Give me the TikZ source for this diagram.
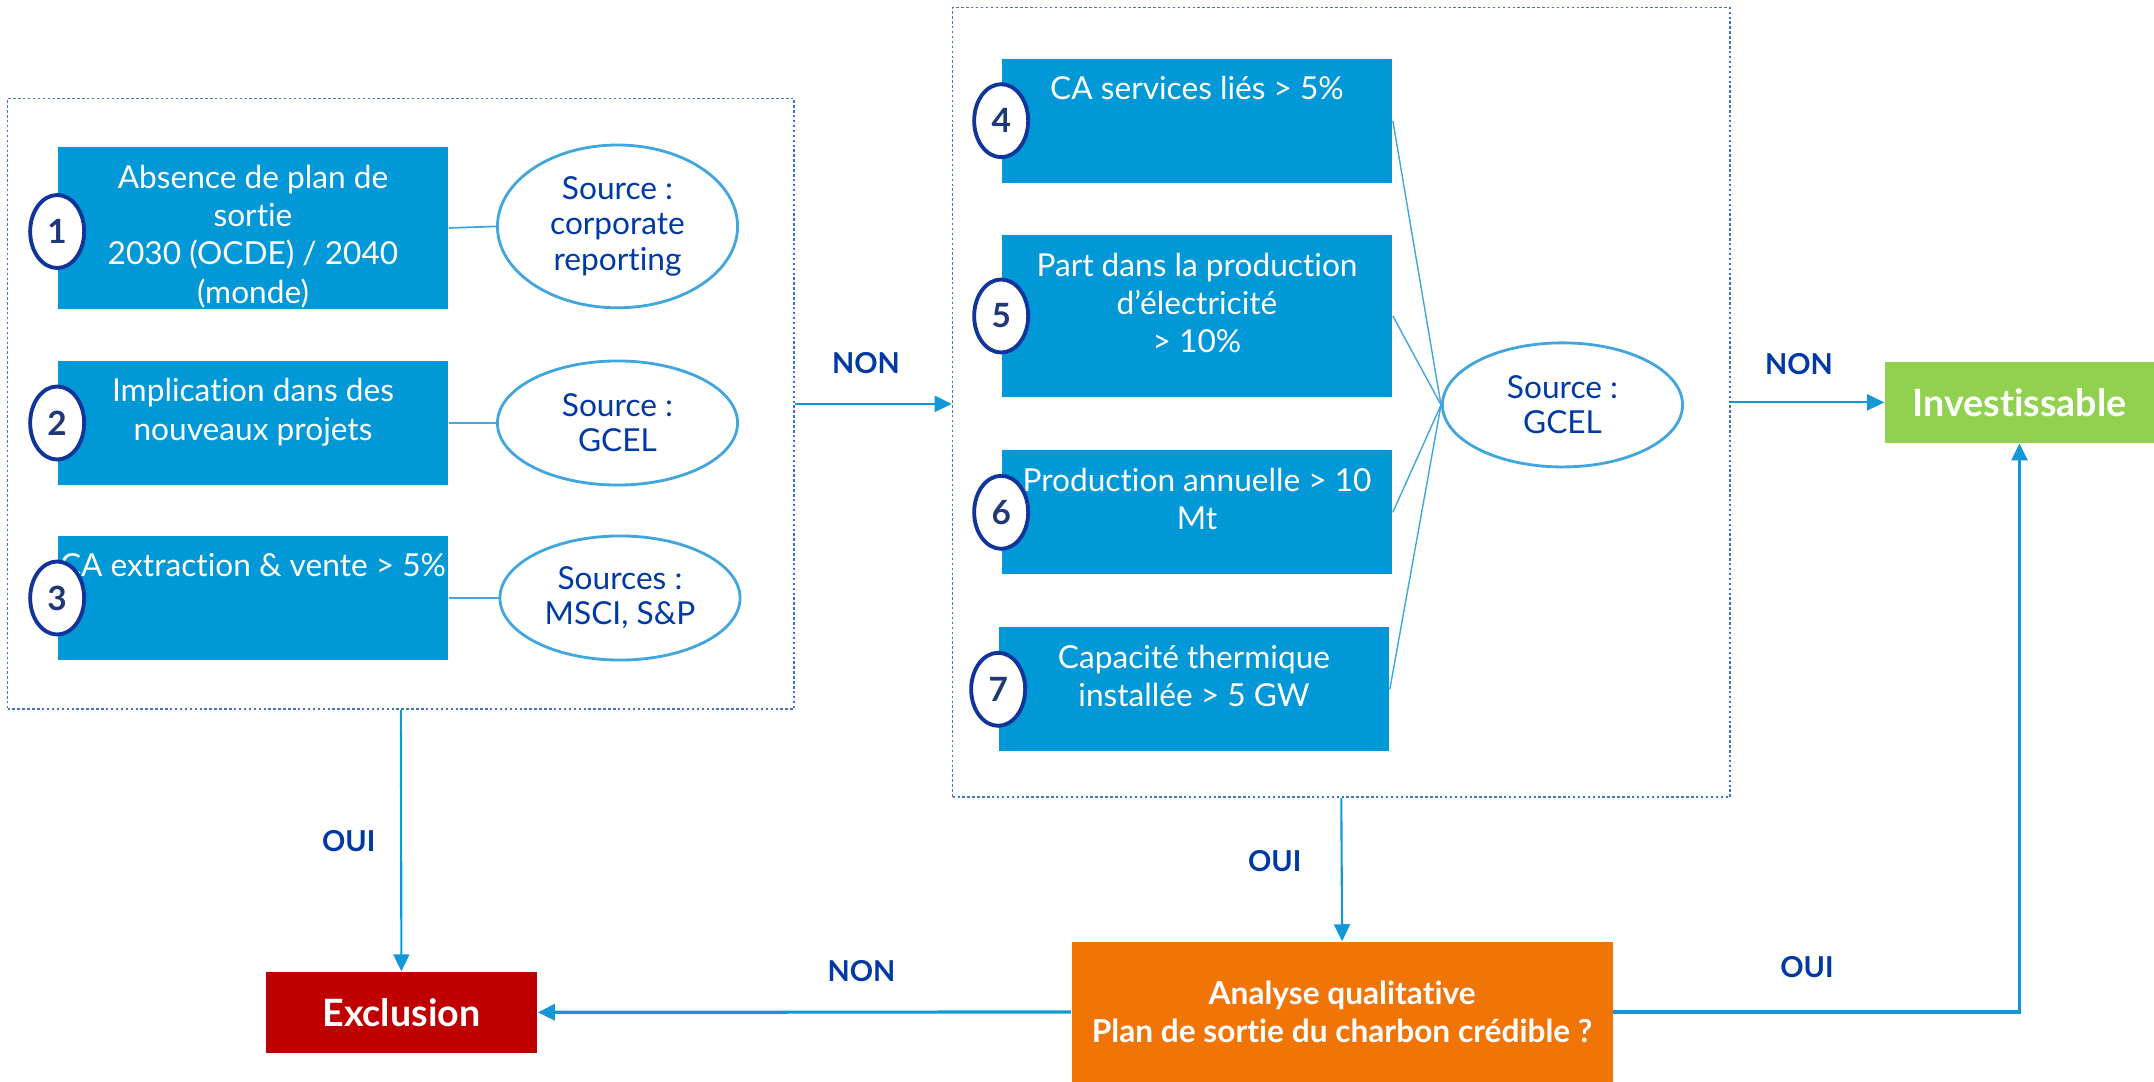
\documentclass[tikz,border=0pt]{standalone}
\usepackage{fontspec}
\setmainfont{Lato}[Ligatures=NoCommon]
\usepackage{xcolor}
\usetikzlibrary{shapes.geometric, arrows.meta, positioning, calc}

\definecolor{critbleu}{RGB}{0,152,214}
\definecolor{marine}{RGB}{0,57,166}
\definecolor{numbord}{RGB}{16,52,156}
\definecolor{numtxt}{RGB}{31,56,120}
\definecolor{ellbord}{RGB}{65,165,222}
\definecolor{trait}{RGB}{18,152,214}
\definecolor{pointille}{RGB}{68,114,196}
\definecolor{orange1}{RGB}{240,117,6}
\definecolor{rouge1}{RGB}{192,0,0}
\definecolor{vert1}{RGB}{146,208,80}

\tikzstyle{fleche} = [draw=trait, line width=0.6pt, -{Triangle[length=1.7mm, width=1.6mm]}]
\tikzstyle{lien} = [draw=ellbord, line width=0.5pt]
\tikzstyle{cadre} = [rectangle, draw=pointille, line width=0.5pt, dash pattern=on 0.7pt off 0.7pt]
\tikzstyle{critere} = [rectangle, fill=critbleu, text=white, align=center, minimum width=3.9cm, inner xsep=0pt, inner ysep=0pt, text height=11.6pt, text depth=23.7pt, font=\fontsize{9}{10.9}\selectfont]
% hauteur du texte selon le nombre de lignes
\tikzstyle{deux} = [text height=22.5pt, text depth=12.8pt]
\tikzstyle{trois} = [text height=33.4pt, text depth=12.5pt]
\tikzstyle{quatre} = [text height=44.3pt, text depth=1.6pt]
\tikzstyle{numero} = [ellipse, draw=numbord, line width=1.1pt, fill=white, minimum width=0.54cm, minimum height=0.73cm, inner sep=0pt, text=numtxt, font=\fontsize{9.5}{11}\selectfont\bfseries]
\tikzstyle{source} = [ellipse, draw=ellbord, line width=0.8pt, fill=white, minimum width=2.4cm, minimum height=1.24cm, inner sep=0pt, align=center, text=marine, font=\fontsize{9}{10}\selectfont]
\tikzstyle{issue} = [rectangle, text=white, minimum height=0.805cm, align=center, font=\fontsize{10.7}{12}\selectfont\bfseries]
\tikzstyle{etiq} = [text=marine, font=\fontsize{8.2}{10}\selectfont\bfseries]

\begin{document}
\begin{tikzpicture}[x=0.01cm, y=-0.01cm]
    \useasboundingbox (0,0) rectangle (2154,1082);

    % Cadres
    \node[cadre, minimum width=7.863cm, minimum height=6.103cm] (gauche) at (400.9,403.9) {};
    \node[cadre, minimum width=7.77cm, minimum height=7.893cm] (droite) at (1341.3,402.4) {};

    % Criteres 1 a 3
    \node[critere, quatre] (b1) at (253,228) {Absence de plan de\\sortie\\2030 (OCDE) / 2040\\(monde)};
    \node[critere, deux] (b2) at (253,423) {Implication dans des\\nouveaux projets};
    \node[critere] (b3) at (253,598) {CA extraction \& vente > 5\%};

    % Sources 1 a 3
    \node[source, minimum height=1.627cm] (s1) at (617.5,226.4) {Source :\\corporate\\reporting};
    \node[source] (s2) at (617.5,423) {Source :\\GCEL};
    \node[source] (s3) at (620,598) {Sources :\\MSCI, S\&P};
    \draw[lien] (b1.east) -- (s1.west);
    \draw[lien] (b2.east) -- (s2.west);
    \draw[lien] (b3.east) -- (s3.west);

    % Criteres 4 a 7
    \node[critere] (b4) at (1197,120.7) {CA services liés > 5\%};
    \node[critere, trois] (b5) at (1197,316) {Part dans la production\\d’électricité\\> 10\%};
    \node[critere, deux] (b6) at (1197,512.3) {Production annuelle > 10\\Mt};
    \node[critere, deux] (b7) at (1194,689.3) {Capacité thermique\\installée > 5 GW};

    % Source commune
    \node[source] (sg) at (1562.5,404.9) {Source :\\GCEL};
    \foreach \b in {b4,b5,b6,b7}
        \draw[lien, line width=0.4pt] (\b.east) -- (sg.west);

    % Numeros
    \node[numero, yshift=-1pt] (n1) at (b1.west) {1};
    \foreach \i in {2,...,7}
        \node[numero] (n\i) at (b\i.west) {\i};

    % Issues
    \node[issue, fill=vert1, minimum width=2.69cm] (invest) at (2019.5,402.5) {Investissable};
    \node[issue, fill=rouge1, minimum width=2.712cm] (excl) at (401.4,1012.3) {Exclusion};
    \node[issue, fill=orange1, minimum width=5.406cm, minimum height=1.4cm, font=\fontsize{9}{10.9}\selectfont\bfseries] (analyse) at (1342.1,1012) {Analyse qualitative\\Plan de sortie du charbon crédible ?};

    % Fleches
    \draw[fleche] (gauche.east) -- (gauche.east -| droite.west);
    \draw[fleche] (droite.east) -- (droite.east -| invest.west);
    \draw[fleche] (gauche.south) -- (excl.north);
    \draw[fleche] (droite.south) -- (analyse.north);
    \draw[fleche, line width=0.9pt] (analyse.west) -- (excl.east);
    \draw[fleche, line width=0.9pt] (analyse.east) -| (invest.south);

    % Etiquettes
    \node[etiq] (non1) at (866,363) {NON};
    \node[etiq] (non2) at (1799,363.7) {NON};
    \node[etiq] (oui1) at (348.8,841) {OUI};
    \node[etiq] (oui2) at (1274.8,861.3) {OUI};
    \node[etiq] (non3) at (861.5,971.3) {NON};
    \node[etiq] (oui3) at (1807,967) {OUI};
\end{tikzpicture}
\end{document}
